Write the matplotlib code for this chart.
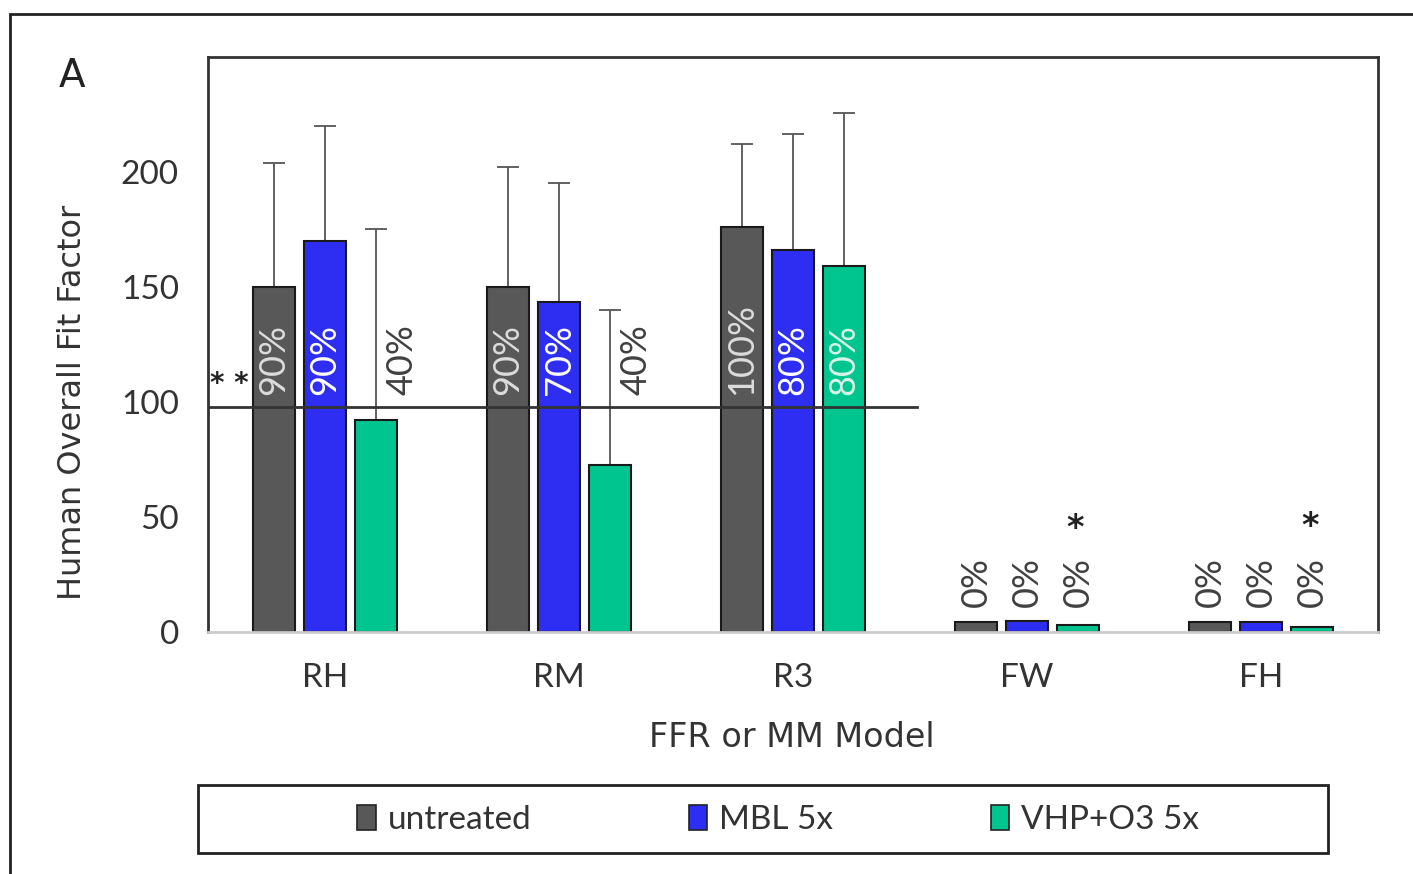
import matplotlib
matplotlib.use("Agg")
import matplotlib.pyplot as plt
from matplotlib.patches import Patch, Rectangle
import numpy as np

# data
models = ["RH", "RM", "R3", "FW", "FH"]
series = ["untreated", "MBL 5x", "VHP+O3 5x"]
untreated = [150, 150, 176, 4.3, 4.3]
mbl = [170, 143.5, 166, 4.8, 4.3]
vhp = [92, 72.5, 159, 3.0, 2.2]
untreated_err = [54, 52, 36, 0, 0]
mbl_err = [50, 51.5, 50.5, 0, 0]
vhp_err = [83, 67.5, 66.5, 0, 0]
untreated_pct = ["90%", "90%", "100%", "0%", "0%"]
mbl_pct = ["90%", "70%", "80%", "0%", "0%"]
vhp_pct = ["40%", "40%", "80%", "0%", "0%"]
pass_level = 98

colors = ["#595858", "#2e2ef2", "#00c58f"]
values = [untreated, mbl, vhp]
errors = [untreated_err, mbl_err, vhp_err]
pcts = [untreated_pct, mbl_pct, vhp_pct]

fig = plt.figure(figsize=(14.13, 8.74), dpi=100)
ax = fig.add_axes([208/1413, 1 - 632/874, 1170/1413, 575/874])

x = np.arange(len(models))
offsets = [-0.218, 0.0, 0.218]
width = 0.18

for k in range(3):
    ax.bar(x + offsets[k], values[k], width, color=colors[k], edgecolor="#1a1a1a",
           linewidth=1.5, zorder=2)
    for i in range(len(models)):
        if errors[k][i] > 0:
            ax.errorbar(x[i] + offsets[k], values[k][i], yerr=[[0], [errors[k][i]]],
                        fmt="none", ecolor="#555555", elinewidth=1.3, capsize=8,
                        capthick=1.3, zorder=1)

# percent labels
label_colors = [
    ["#dcdcdc", "#dcdcdc", "#dcdcdc", "#404040", "#404040"],
    ["white", "white", "white", "#404040", "#404040"],
    ["#404040", "#404040", "#d8f5e8", "#404040", "#404040"],
]
for k in range(3):
    for i in range(len(models)):
        ybase = 103 if i < 3 else 11
        # labels that sit outside a short bar are nudged right of the error bar
        dx = 0.11 if (k == 2 and vhp[i] < pass_level and i < 3) else 0.0
        ax.text(x[i] + offsets[k] + dx, ybase, pcts[k][i], rotation=90,
                ha="center", va="bottom", fontsize=26, color=label_colors[k][i],
                family="Lato", zorder=4)

# 100 line
ax.plot([-0.5, 2.53], [pass_level, pass_level], color="#333333", lw=2, zorder=3)
ax.text(-0.41, 108, "* *", ha="center", va="center", fontsize=20,
        fontweight="bold", color="#222222")
ax.text(3.205, 45, "*", ha="center", va="center", fontsize=24,
        fontweight="bold", color="#222222")
ax.text(4.21, 46, "*", ha="center", va="center", fontsize=24,
        fontweight="bold", color="#222222")

ax.set_xlim(-0.5, 4.5)
ax.set_ylim(0, 250)
ax.set_yticks([0, 50, 100, 150, 200])
ax.set_xticks(x)
ax.set_xticklabels(models)
ax.tick_params(axis="both", length=0, colors="#333333")
ax.tick_params(axis="x", pad=22)
ax.tick_params(axis="y", pad=21)
for lab in ax.get_xticklabels() + ax.get_yticklabels():
    lab.set_family("Lato")
    lab.set_fontsize(24)

for s in ["top", "right", "left"]:
    ax.spines[s].set_color("#333333")
    ax.spines[s].set_linewidth(2)
ax.spines["bottom"].set_color("#cccccc")
ax.spines["bottom"].set_linewidth(2)

ax.set_ylabel("Human Overall Fit Factor", fontsize=23, color="#333333",
              family="DejaVu Sans")
ax.yaxis.set_label_coords(-0.116, 0.40)
ax.set_xlabel("FFR or MM Model", fontsize=24, color="#333333",
              family="DejaVu Sans")
ax.xaxis.set_label_coords(0.499, -0.183)
ax.xaxis.label.set_va("center")
ax.yaxis.label.set_va("center")

fig.text(72/1413, 1 - 76/874, "A", fontsize=28, color="#222222",
         ha="center", va="center", family="DejaVu Sans")

# legend, with its box drawn separately
handles = [Patch(facecolor=c, edgecolor="#222222", linewidth=1.2) for c in colors]
leg = fig.legend(handles, series, loc="center", ncol=3,
                 bbox_to_anchor=(778/1413, 1 - 820/874), frameon=False,
                 handlelength=0.55, handleheight=0.75,
                 handletextpad=0.35, columnspacing=4.73,
                 prop={"family": "Lato", "size": 24})
for t in leg.get_texts():
    t.set_color("#333333")
fig.patches.append(Rectangle((198/1413, 1 - 853/874), 1130/1413, 68/874,
                             transform=fig.transFigure, fill=False,
                             edgecolor="#222222", linewidth=2))

# outer border of the panel
fig.patches.append(Rectangle((10/1413, -0.05), 1.1, 1 - 14/874 + 0.05,
                             transform=fig.transFigure, fill=False,
                             edgecolor="#222222", linewidth=2))

fig.savefig("out.png", dpi=100)
